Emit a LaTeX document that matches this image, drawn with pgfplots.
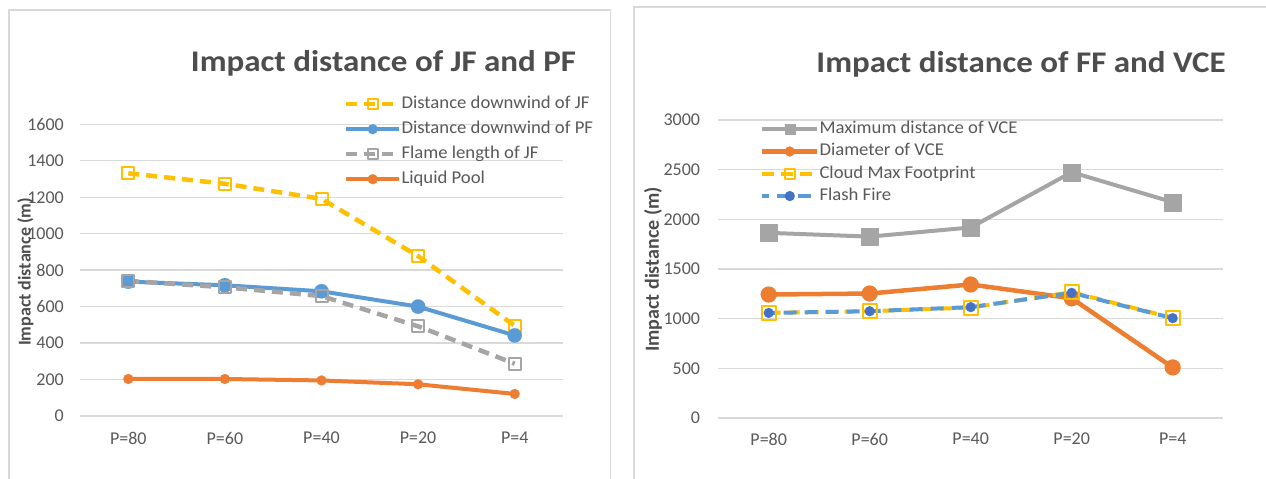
\documentclass[border=0pt]{standalone}
\usepackage{pgfplots}
\pgfplotsset{compat=1.18}
\usepackage{pgfplotstable}
\usepackage{fontspec}
\setmainfont{Carlito}
\newfontfamily\titlefont[FakeStretch=1.1]{Carlito}
\newfontfamily\legfont[FakeStretch=1.04]{Carlito}
\definecolor{xgray}{HTML}{A5A5A5}
\definecolor{xorange}{HTML}{ED7D31}
\definecolor{xblue}{HTML}{5B9BD5}
\definecolor{xyellow}{HTML}{FFC000}
\definecolor{xdblue}{HTML}{4472C4}
\definecolor{gridc}{HTML}{D9D9D9}
\definecolor{txt}{HTML}{595959}
\definecolor{ttl}{HTML}{4D4D4D}

\pgfplotstableread{
x JF PF FL LP
0 1331 737 741 203
1 1274 717 706 203
2 1191 684 658 195
3 877 600 492 174
4 495 442 287 121
}\lefttab

\pgfplotstableread{
x MAX DIA CLOUD FF
0 1864 1243 1058 1058
1 1826 1253 1075 1075
2 1918 1344 1112 1116
3 2474 1205 1266 1260
4 2173 509 1008 1005
}\righttab

\pgfplotsset{
 myaxis/.style={
  scale only axis, clip=false,
  axis line style={draw=none},
  major tick length=0pt,
  ymajorgrids, grid style={gridc, line width=1.3bp},
  xmin=-0.5, xmax=4.5, xtick={0,1,2,3,4},
  xticklabels={P=80,P=60,P=40,P=20,P=4},
  tick label style={font=\fontsize{18bp}{22bp}\selectfont, text=txt},
  /pgf/number format/assume math mode=true,
  /pgf/number format/1000 sep={},
  yticklabel style={anchor=east, inner sep=0pt},
  xticklabel style={anchor=center, inner sep=0pt},
  ylabel style={font=\fontsize{18bp}{22bp}\selectfont\bfseries, text=ttl, anchor=center, inner sep=0pt},
  legend cell align=left,
  legend style={draw=none, fill=none, inner sep=0pt, outer sep=0pt, anchor=north west,
    font=\legfont\fontsize{18bp}{22bp}\selectfont, text=txt,
    nodes={inner sep=0pt, text height=13bp, text depth=4bp}},
  every axis plot/.append style={line join=round},
 }
}

\begin{document}
\begin{tikzpicture}
\clip (0,0) rectangle (1266bp,479bp);
\fill[white] (0,0) rectangle (1266bp,479bp);
% panel borders
\draw[gridc, line width=1.3bp] (9bp,-5bp) -- (9bp,469bp) -- (610.5bp,469bp) -- (610.5bp,-5bp);
\draw[gridc, line width=1.3bp] (634bp,-5bp) -- (634bp,472bp) -- (1270bp,472bp);

\node[anchor=base, font=\titlefont\fontsize{30bp}{36bp}\selectfont\bfseries, text=ttl] at (383.5bp,407.3bp) {Impact distance of JF and PF};
\node[anchor=base, font=\titlefont\fontsize{30bp}{36bp}\selectfont\bfseries, text=ttl] at (1021bp,406.5bp) {Impact distance of FF and VCE};

\begin{axis}[myaxis,
  at={(80bp,63bp)}, anchor=south west,
  width=483bp, height=291.7bp,
  ymin=0, ymax=1600, ytick={0,200,...,1600},
  yticklabel style={xshift=-16bp},
  xticklabel style={yshift=-22bp},
  ylabel={Impact distance (m)},
  ylabel style={at={(axis description cs:-0.1133,0.4937)}},
  legend style={at={(axis description cs:0.5466,1.098)},
    /tikz/every even column/.append style={column sep=6bp}, row sep=8bp},
  legend image code/.code={\draw[mark repeat=2, mark phase=2, mark size=5bp] plot coordinates {(0bp,0bp) (26.5bp,0bp) (53bp,0bp)};},
]
\addplot[xyellow, line width=4.5bp, dash pattern=on 11bp off 7bp, mark=square, mark size=6bp, mark options={solid, line width=2bp}] table[x=x,y=JF] {\lefttab};
\addlegendentry{Distance downwind of JF}
\addplot[xblue, line width=4bp, mark=*, mark size=7.2bp, mark options={solid, line width=0.1bp, fill=xblue}] table[x=x,y=PF] {\lefttab};
\addlegendentry{Distance downwind of PF}
\addplot[xgray, line width=4.5bp, dash pattern=on 11bp off 7bp, mark=square, mark size=6bp, mark options={solid, line width=2bp}] table[x=x,y=FL] {\lefttab};
\addlegendentry{Flame length of JF}
\addplot[xorange, line width=4bp, mark=*, mark size=5bp, mark options={solid, line width=0.1bp, fill=xorange}] table[x=x,y=LP] {\lefttab};
\addlegendentry{Liquid Pool}
\end{axis}

\begin{axis}[myaxis,
  at={(718.2bp,61bp)}, anchor=south west,
  width=505bp, height=298bp,
  ymin=0, ymax=3000, ytick={0,500,...,3000},
  yticklabel style={xshift=-18bp},
  xticklabel style={yshift=-21bp},
  ylabel={Impact distance (m)},
  ylabel style={at={(axis description cs:-0.1291,0.4983)}, font=\fontsize{20bp}{24bp}\selectfont\bfseries},
  legend style={at={(axis description cs:0.0828,0.9977)},
    /tikz/every even column/.append style={column sep=5.5bp}, row sep=5.3bp},
  legend image code/.code={\draw[mark repeat=2, mark phase=2, mark size=5bp] plot coordinates {(0bp,0bp) (27.5bp,0bp) (55bp,0bp)};},
]
\addplot[xgray, line width=4bp, mark=square*, mark size=8.5bp, mark options={solid, line width=0.1bp, fill=xgray}] table[x=x,y=MAX] {\righttab};
\addlegendentry{Maximum distance of VCE}
\addplot[xorange, line width=4.5bp, mark=*, mark size=8bp, mark options={solid, line width=0.1bp, fill=xorange}] table[x=x,y=DIA] {\righttab};
\addlegendentry{Diameter of VCE}
\addplot[xyellow, line width=4bp, dash pattern=on 12bp off 7bp, mark=square, mark size=7bp, mark options={solid, line width=2bp}] table[x=x,y=CLOUD] {\righttab};
\addlegendentry{Cloud Max Footprint}
\addplot[xblue, line width=4bp, dash pattern=on 13bp off 8bp, dash phase=6bp, mark=*, mark size=5bp, mark options={solid, line width=0.1bp, draw=xdblue, fill=xdblue}] table[x=x,y=FF] {\righttab};
\addlegendentry{Flash Fire}
\end{axis}
\end{tikzpicture}
\end{document}
